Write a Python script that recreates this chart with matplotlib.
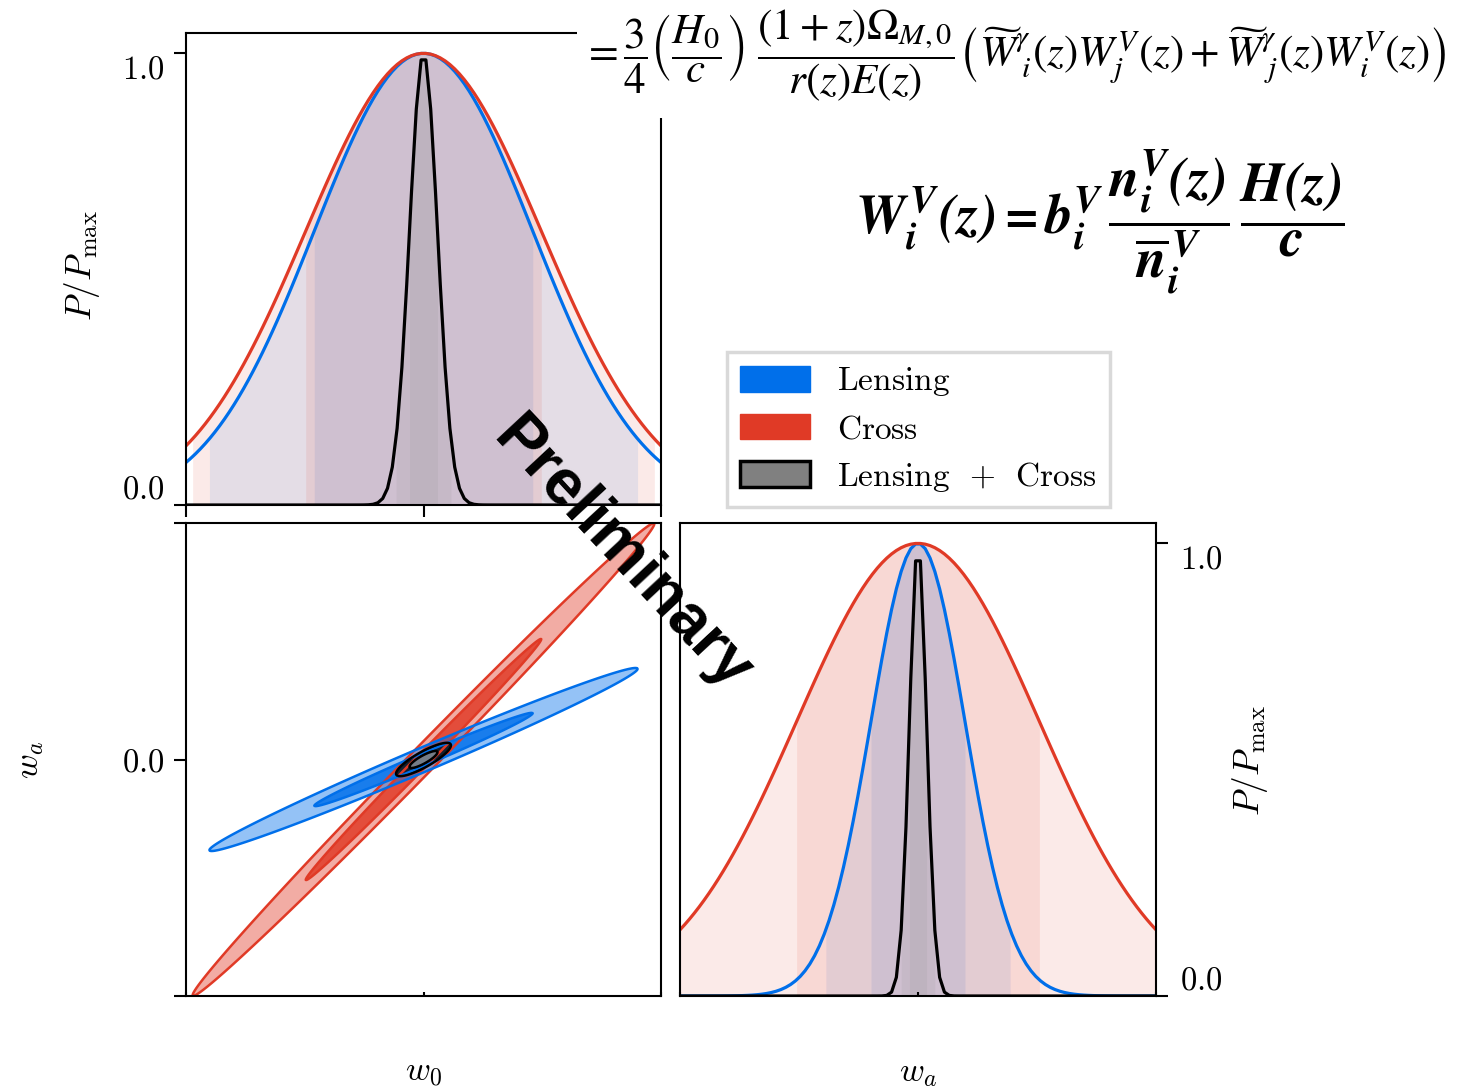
import numpy as np
import matplotlib
matplotlib.use('Agg')
import matplotlib.pyplot as plt
from matplotlib.patches import Patch, Rectangle

plt.rcParams['mathtext.fontset'] = 'cm'
plt.rcParams['font.family'] = ['DejaVu Serif']

# ---------------- data (Fisher-forecast summary) -------------
probes = ['Lensing', 'Cross', 'Lensing + Cross']
legend_labels = [r'$\mathrm{Lensing}$', r'$\mathrm{Cross}$',
                 r'$\mathrm{Lensing}\ \,+\,\ \mathrm{Cross}$']
line_colors = ['#006FEA', '#E03A26', '#000000']
fill_colors = ['#006FEA', '#E03A26', '#808080']
fid_w0 = -1.0
fid_wa = 0.0
sigma_w0 = [0.230, 0.248, 0.0295]
sigma_wa = [0.395, 1.020, 0.072]
rho_w0wa = [0.990, 0.997, 0.85]
w0_lim = [-1.5, -0.5]
wa_lim = [-2.0, 2.0]
band_k = [1.0, 1.96]
pmax_ticks = [0.0, 1.0]
pmax_ticklabels = [r'$0.0$', r'$1.0$']

W, H = 1477, 1089
fig = plt.figure(figsize=(W / 100, H / 100), dpi=100)


def rect(l, r, t, b):
    return [l / W, 1 - b / H, (r - l) / W, (b - t) / H]


ax1 = fig.add_axes(rect(186, 661, 33, 505))
ax2 = fig.add_axes(rect(186, 661, 523, 996))
ax3 = fig.add_axes(rect(680, 1156, 523, 996))

LW = 2.3
FS = 23.5


def plot_1d(ax, fid, sigmas, lim):
    x = np.linspace(lim[0], lim[1], 100)
    curves = []
    for i in range(len(probes)):
        s = sigmas[i]
        y = np.exp(-0.5 * ((x - fid) / s) ** 2)
        curves.append(y)
        for k in band_k:
            lo, hi = max(fid - k * s, lim[0]), min(fid + k * s, lim[1])
            xf = np.linspace(lo, hi, 600)
            yf = np.interp(xf, x, y)
            ax.fill_between(xf, 0, yf, color=fill_colors[i], alpha=0.1, lw=0)
    for i in range(len(probes)):
        ax.plot(x, curves[i], color=line_colors[i], lw=LW)
    ax.set_xlim(lim)
    ax.set_ylim(0, 1.045)


plot_1d(ax1, fid_w0, sigma_w0, w0_lim)
plot_1d(ax3, fid_wa, sigma_wa, wa_lim)

# 2D contours
gx = np.linspace(w0_lim[0], w0_lim[1], 600)
gy = np.linspace(wa_lim[0], wa_lim[1], 600)
X, Y = np.meshgrid(gx, gy)
lev1, lev2 = band_k[0] ** 2, band_k[1] ** 2
outer_fill = ['#006FEA', '#E03A26', '#111111']
outer_alpha = [0.42, 0.42, 0.85]
for i in [1, 0, 2]:
    sx, sy, r = sigma_w0[i], sigma_wa[i], rho_w0wa[i]
    dx = (X - fid_w0) / sx
    dy = (Y - fid_wa) / sy
    chi2 = (dx ** 2 - 2 * r * dx * dy + dy ** 2) / (1 - r ** 2)
    ax2.contourf(X, Y, chi2, levels=[lev1, lev2], colors=[outer_fill[i]], alpha=outer_alpha[i])
    ax2.contourf(X, Y, chi2, levels=[0, lev1], colors=[fill_colors[i]], alpha=0.9)
    ax2.contour(X, Y, chi2, levels=[lev1, lev2], colors=[line_colors[i]], linewidths=1.8)
ax2.set_xlim(w0_lim)
ax2.set_ylim(wa_lim)

# ticks
for ax in (ax1, ax2, ax3):
    ax.tick_params(direction='out', length=8.5, width=1.5, labelsize=FS, pad=7)
    for sp in ax.spines.values():
        sp.set_linewidth(1.5)
for ax in (ax2, ax3):
    ax.tick_params(axis='x', direction='in', length=3)

ax1.set_xticks([w0_lim[0], fid_w0, w0_lim[1]], ['', '', ''])
ax1.set_yticks(pmax_ticks, pmax_ticklabels)
ax2.set_xticks([w0_lim[0], fid_w0, w0_lim[1]], ['', '', ''])
ax2.set_yticks([wa_lim[0], fid_wa, wa_lim[1]], ['', r'$0.0$', ''])
ax3.set_xticks([wa_lim[0], fid_wa, wa_lim[1]], ['', '', ''])
ax3.yaxis.tick_right()
ax3.set_yticks(pmax_ticks, pmax_ticklabels)
ax3.tick_params(axis='y', pad=9)
for ax in (ax1, ax3):
    labs = ax.get_yticklabels()
    labs[0].set_va('bottom')
    labs[1].set_va('top')

# axis labels
fig.text(424 / W, 1 - 1073 / H, r'$w_0$', ha='center', va='center', fontsize=FS + 1)
fig.text(918 / W, 1 - 1073 / H, r'$w_a$', ha='center', va='center', fontsize=FS + 1)
fig.text(30 / W, 1 - 760 / H, r'$w_a$', ha='center', va='center', rotation=90, fontsize=FS + 1)
fig.text(82 / W, 1 - 265 / H, r'$P/P_{\rm max}$', ha='center', va='center', rotation=90, fontsize=FS + 2)
fig.text(1250 / W, 1 - 760 / H, r'$P/P_{\rm max}$', ha='center', va='center', rotation=90, fontsize=FS + 2)

# legend
handles = [Patch(facecolor=fill_colors[0], edgecolor=fill_colors[0]),
           Patch(facecolor=fill_colors[1], edgecolor=fill_colors[1]),
           Patch(facecolor=fill_colors[2], edgecolor='k', linewidth=2.5)]
leg = fig.legend(handles, legend_labels, loc='upper left',
                 bbox_to_anchor=(727 / W, 1 - 352 / H), fontsize=24,
                 frameon=True, fancybox=False, edgecolor='#d9d9d9', framealpha=1,
                 handlelength=2.1, handleheight=0.8, handletextpad=0.8,
                 labelspacing=0.44, borderpad=0.4, borderaxespad=0)
leg.get_frame().set_linewidth(2.5)

# formula overlay
fig.add_artist(Rectangle((577 / W, 1 - 118 / H), (W - 577) / W, 118 / H,
                         transform=fig.transFigure, facecolor='white',
                         edgecolor='none', zorder=5))
fig.text(582 / W, 1 - 55 / H,
         r'$=\dfrac{3}{4}\left(\dfrac{H_0}{c}\right)\ \dfrac{(1+z)\Omega_{M,0}}{r(z)E(z)}'
         r'\left(\widetilde{W}^{\gamma}_{\;i}(z)W^{V}_{j}(z)+\widetilde{W}^{\gamma}_{\;j}(z)W^{V}_{i}(z)\right)$',
         math_fontfamily='stix', fontsize=31, ha='left', va='center', zorder=6)
fig.text(1100 / W, 1 - 222 / H,
         r'$\mathbfit{W_i^{\,V}(z) = b_i^V\,\dfrac{n_i^V(z)}{\overline{n}_i^{\,V}}\,\dfrac{H(z)}{c}}$',
         math_fontfamily='stix', fontsize=40, ha='center', va='center', zorder=6)

fig.text(622 / W, 1 - 555 / H, 'Preliminary', rotation=-47, fontsize=46,
         fontweight='bold', family='Liberation Sans', ha='center', va='center',
         rotation_mode='anchor', zorder=20)

fig.savefig('out.png', dpi=100)
